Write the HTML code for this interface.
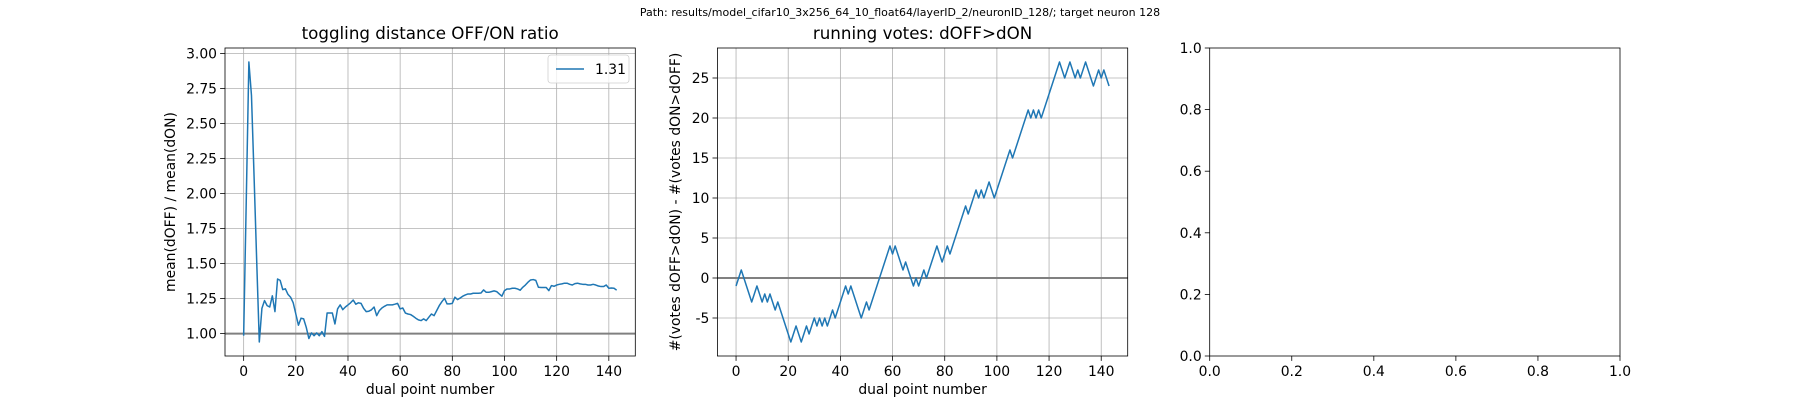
<!DOCTYPE html>
<html><head><meta charset="utf-8">
<style>
html,body{margin:0;padding:0;background:#fff;}
svg{display:block;font-family:"DejaVu Sans","Liberation Sans",sans-serif;}
</style></head>
<body>
<svg id="fig" width="1800" height="400" viewBox="0 0 1800 400" xmlns="http://www.w3.org/2000/svg">
<rect width="1800" height="400" fill="#fff"/>
<text x="900" y="16" font-size="11" text-anchor="middle">Path: results/model_cifar10_3x256_64_10_float64/layerID_2/neuronID_128/; target neuron 128</text>
</svg>
<script>
const ratioValues=[0.985,1.95,2.94,2.70,2.12,1.52,0.94,1.18,1.236,1.20,1.19,1.27,1.157,1.39,1.38,1.314,1.32,1.28,1.26,1.22,
1.14,1.06,1.11,1.105,1.045,0.965,1.005,0.985,1.005,0.985,1.014,0.98,1.147,1.147,1.147,1.069,1.176,1.205,1.171,1.19,
1.205,1.22,1.24,1.21,1.22,1.216,1.18,1.157,1.16,1.17,1.19,1.128,1.164,1.183,1.195,1.205,1.205,1.205,1.21,1.216,
1.176,1.183,1.147,1.14,1.136,1.124,1.11,1.098,1.093,1.105,1.093,1.117,1.14,1.128,1.164,1.2,1.228,1.252,1.212,1.212,
1.216,1.26,1.243,1.254,1.267,1.276,1.283,1.283,1.288,1.288,1.288,1.29,1.312,1.295,1.295,1.3,1.305,1.3,1.283,1.267,
1.307,1.319,1.319,1.324,1.324,1.319,1.31,1.331,1.347,1.367,1.383,1.386,1.38,1.331,1.329,1.329,1.329,1.307,1.343,1.338,
1.347,1.352,1.355,1.36,1.36,1.352,1.347,1.357,1.36,1.355,1.352,1.352,1.347,1.347,1.352,1.347,1.34,1.336,1.336,1.347,
1.324,1.326,1.324,1.31];
const voteValues=[-1,0,1,0,-1,-2,-3,-2,-1,-2,-3,-2,-3,-2,-3,-4,-3,-4,-5,-6,-7,-8,-7,-6,-7,-8,-7,-6,-7,-6,
-5,-6,-5,-6,-5,-6,-5,-4,-5,-4,-3,-2,-1,-2,-1,-2,-3,-4,-5,-4,-3,-4,-3,-2,-1,0,1,2,3,4,
3,4,3,2,1,2,1,0,-1,0,-1,0,1,0,1,2,3,4,3,2,3,4,3,4,5,6,7,8,9,8,
9,10,11,10,11,10,11,12,11,10,11,12,13,14,15,16,15,16,17,18,19,20,21,20,21,20,21,20,21,22,
23,24,25,26,27,26,25,26,27,26,25,26,25,26,27,26,25,24,25,26,25,26,25,24];
const xTicks1=[0,20,40,60,80,100,120,140];
const yTicks1=[1.00,1.25,1.50,1.75,2.00,2.25,2.50,2.75,3.00];
const yTicks2=[-5,0,5,10,15,20,25];
const ticks3=[0.0,0.2,0.4,0.6,0.8,1.0];
const legendLabel=["1.31"];

const NS="http://www.w3.org/2000/svg";
const svg=document.getElementById('fig');
function el(tag,attrs,parent){const e=document.createElementNS(NS,tag);for(const k in attrs)e.setAttribute(k,attrs[k]);(parent||svg).appendChild(e);return e;}
const yTop=48,yBot=356,W=410.3;
const lefts=[225,717.4,1209.7];
function scale(d0,d1,r0,r1){return v=>r0+(v-d0)/(d1-d0)*(r1-r0);}

function axesFrame(i,xs,ys,xt,yt,fmtX,fmtY,grid,name){
  const L=lefts[i],R=L+W;
  const g=el('g',{});
  
  
  if(grid){
    xt.forEach(t=>{el('line',{x1:xs(t),x2:xs(t),y1:yTop,y2:yBot,stroke:'#b0b0b0','stroke-width':0.8},g);});
    yt.forEach(t=>{el('line',{x1:L,x2:R,y1:ys(t),y2:ys(t),stroke:'#b0b0b0','stroke-width':0.8},g);});
  }
  xt.forEach(t=>{
    el('line',{x1:xs(t),x2:xs(t),y1:yBot,y2:yBot+4.9,stroke:'#000','stroke-width':0.8},g);
    const tx=el('text',{x:xs(t),y:yBot+20,'font-size':13.9,'text-anchor':'middle'},g);
    
    
    tx.textContent=fmtX(t);
  });
  yt.forEach(t=>{
    el('line',{x1:L-4.9,x2:L,y1:ys(t),y2:ys(t),stroke:'#000','stroke-width':0.8},g);
    const tx=el('text',{x:L-8,y:ys(t)+5,'font-size':13.9,'text-anchor':'end'},g);
    
    
    tx.textContent=fmtY(t);
  });
  return g;
}
function drawLine(g,vals,xs,ys,name){
  let d='';vals.forEach((v,k)=>{d+=(k?'L':'M')+xs(k).toFixed(2)+' '+ys(v).toFixed(2);});
  const p=el('path',{d:d,fill:'none',stroke:'#1f77b4','stroke-width':1.5,'stroke-linejoin':'round'},g);
  
  
}
function spines(g,L){el('rect',{x:L,y:yTop,width:W,height:yBot-yTop,fill:'none',stroke:'#000','stroke-width':0.8},g);}
function label(txt,x,y,size,name,rot){
  const t=el('text',{x:x,y:y,'font-size':size,'text-anchor':'middle'});
  if(rot)t.setAttribute('transform','rotate(-90 '+x+' '+y+')');
  
  
  t.textContent=txt;
}

// Axes 1
const n1=ratioValues.length;
let mn=Math.min(...ratioValues),mx=Math.max(...ratioValues),pad=(mx-mn)*0.05;
const xs1=scale(-(n1-1)*0.05,(n1-1)*1.05,lefts[0],lefts[0]+W);
const ys1=scale(mn-pad,mx+pad,yBot,yTop);
const g1=axesFrame(0,xs1,ys1,xTicks1,yTicks1,t=>String(t),t=>t.toFixed(2),true,'ratio-axes');
const h1=el('line',{x1:lefts[0],x2:lefts[0]+W,y1:ys1(1),y2:ys1(1),stroke:'#808080','stroke-width':2},g1);


drawLine(g1,ratioValues,xs1,ys1,'ratio-line');
spines(g1,lefts[0]);
const lg=el('g',{},g1);


el('rect',{x:548,y:55,width:81,height:28,rx:3,fill:'#fff','fill-opacity':0.8,stroke:'#d0d0d0','stroke-width':0.8},lg);
el('line',{x1:556,x2:584,y1:69,y2:69,stroke:'#1f77b4','stroke-width':1.5},lg);
const lt=el('text',{x:595,y:74,'font-size':13.9},lg);


lt.textContent=legendLabel[0];
label('toggling distance OFF/ON ratio',lefts[0]+W/2,39,16.7,'ratio-title');
label('dual point number',lefts[0]+W/2,394,13.9,'ratio-x-axis-title');
label('mean(dOFF) / mean(dON)',175,202,13.9,'ratio-y-axis-title',true);

// Axes 2
const n2=voteValues.length;
mn=Math.min(...voteValues);mx=Math.max(...voteValues);pad=(mx-mn)*0.05;
const xs2=scale(-(n2-1)*0.05,(n2-1)*1.05,lefts[1],lefts[1]+W);
const ys2=scale(mn-pad,mx+pad,yBot,yTop);
const g2=axesFrame(1,xs2,ys2,xTicks1,yTicks2,t=>String(t),t=>String(t),true,'votes-axes');
const h2=el('line',{x1:lefts[1],x2:lefts[1]+W,y1:ys2(0),y2:ys2(0),stroke:'#808080','stroke-width':2},g2);


drawLine(g2,voteValues,xs2,ys2,'votes-line');
spines(g2,lefts[1]);
label('running votes: dOFF>dON',lefts[1]+W/2,39,16.7,'votes-title');
label('dual point number',lefts[1]+W/2,394,13.9,'votes-x-axis-title');
label('#(votes dOFF>dON) - #(votes dON>dOFF)',680,202,13.9,'votes-y-axis-title',true);

// Axes 3
const xs3=scale(0,1,lefts[2],lefts[2]+W);
const ys3=scale(0,1,yBot,yTop);
const g3=axesFrame(2,xs3,ys3,ticks3,ticks3,t=>t.toFixed(1),t=>t.toFixed(1),false,'empty-axes');
spines(g3,lefts[2]);
</script>
</body></html>
